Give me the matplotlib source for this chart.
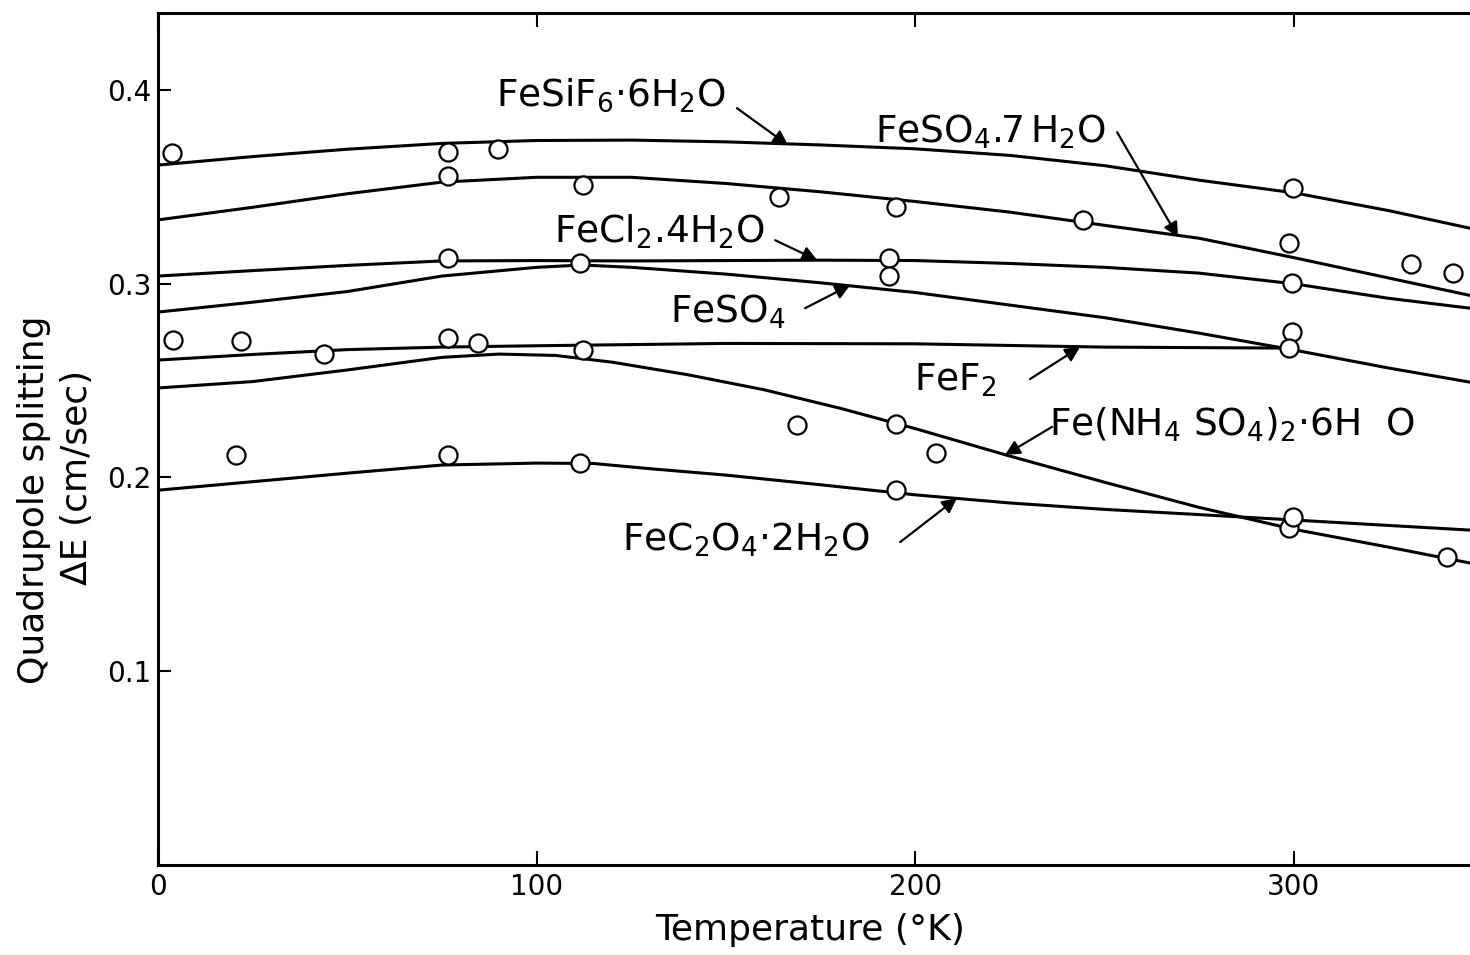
import matplotlib
matplotlib.use("Agg")
import matplotlib.pyplot as plt

# Smooth curves drawn through the data (temperature K, splitting cm/sec)
fesif6_T = [0, 25, 50, 75, 100, 125, 150, 175, 200, 225, 250, 275, 300, 325, 346.5]
fesif6_E = [0.3613, 0.3657, 0.3695, 0.3725, 0.3740, 0.3742, 0.3733, 0.3717, 0.3697,
            0.3663, 0.3610, 0.3535, 0.3470, 0.3378, 0.3287]

feso4_7_T = [0, 25, 50, 75, 100, 125, 150, 175, 200, 225, 250, 275, 300, 325, 346.5]
feso4_7_E = [0.333, 0.3395, 0.3465, 0.3525, 0.3550, 0.3550, 0.3518, 0.3475, 0.3425,
             0.3370, 0.3302, 0.3235, 0.3135, 0.3030, 0.2940]

fecl2_T = [0, 25, 50, 75, 100, 125, 150, 175, 200, 225, 250, 275, 300, 325, 346.5]
fecl2_E = [0.304, 0.3068, 0.3095, 0.3118, 0.3120, 0.3118, 0.3120, 0.3122, 0.3120,
           0.3105, 0.3085, 0.3055, 0.3000, 0.2925, 0.2874]

feso4_T = [0, 25, 50, 75, 100, 112, 125, 150, 175, 200, 225, 250, 275, 300, 325, 346.5]
feso4_E = [0.2854, 0.2905, 0.2960, 0.3040, 0.3085, 0.3097, 0.3085, 0.3050, 0.3005,
           0.2955, 0.2890, 0.2825, 0.2745, 0.2658, 0.2565, 0.2492]

fef2_T = [0, 25, 50, 75, 100, 150, 200, 250, 297]
fef2_E = [0.2606, 0.2635, 0.2660, 0.2673, 0.2680, 0.2692, 0.2690, 0.2673, 0.2668]

nh4_T = [0, 25, 50, 75, 90, 105, 120, 140, 160, 180, 200, 225, 250, 275, 300, 325, 346.5]
nh4_E = [0.2462, 0.2495, 0.2555, 0.2620, 0.2637, 0.2630, 0.2595, 0.2530, 0.2453, 0.2358,
         0.2252, 0.2110, 0.1975, 0.1845, 0.1732, 0.1640, 0.1558]

fec2o4_T = [0, 25, 50, 75, 100, 115, 130, 150, 175, 200, 225, 250, 275, 300, 325, 346.5]
fec2o4_E = [0.1934, 0.1978, 0.2022, 0.2064, 0.2074, 0.2072, 0.2045, 0.2012, 0.1962,
            0.1910, 0.1868, 0.1835, 0.1808, 0.1780, 0.1752, 0.1728]

# Measured points (open circles)
pts_T = [3.7, 76.6, 89.8, 299.8,
         76.6, 112.3, 164.0, 194.9, 244.3, 298.7, 331.0, 342.0,
         76.6, 193.1, 299.5,
         111.5, 193.1, 299.5,
         4.0, 21.9, 43.8, 76.6, 84.5, 112.3, 298.7,
         168.8, 194.9, 205.5, 298.7, 340.5,
         20.6, 76.6, 111.5, 194.9, 299.8]
pts_E = [0.3676, 0.3680, 0.3695, 0.3493,
         0.3556, 0.3510, 0.3447, 0.3396, 0.3329, 0.3210, 0.3101, 0.3055,
         0.3133, 0.3133, 0.3003,
         0.3107, 0.3040, 0.2750,
         0.2709, 0.2704, 0.2637, 0.2720, 0.2694, 0.2658, 0.2668,
         0.2271, 0.2276, 0.2125, 0.1738, 0.1588,
         0.2115, 0.2115, 0.2074, 0.1935, 0.1795]

curves = [(fesif6_T, fesif6_E), (feso4_7_T, feso4_7_E), (fecl2_T, fecl2_E),
          (feso4_T, feso4_E), (fef2_T, fef2_E), (nh4_T, nh4_E), (fec2o4_T, fec2o4_E)]

fig = plt.figure(figsize=(14.7, 9.55), dpi=100)
ax = fig.add_axes([158 / 1470, 90.3 / 955, 1312 / 1470, 852 / 955])

for T, E in curves:
    ax.plot(T, E, color='black', lw=2.2, solid_joinstyle='round')

ax.plot(pts_T, pts_E, 'o', ms=13, mfc='white', mec='black', mew=1.6, zorder=5)

ax.set_xlim(0, 346.5)
ax.set_ylim(0, 0.44)

ax.set_xticks([0, 100, 200, 300])
ax.set_xticklabels(['0', '100', '200', '300'])
ax.set_yticks([0.1, 0.2, 0.3, 0.4])
ax.set_yticklabels(['0.1', '0.2', '0.3', '0.4'])
ax.tick_params(axis='x', direction='in', length=10, width=1.5, top=True, labelsize=20, pad=6)
ax.tick_params(axis='y', direction='in', length=9, width=1.5, labelsize=20, pad=5)

for s in ['left', 'bottom', 'top']:
    ax.spines[s].set_linewidth(2.2)
ax.spines['right'].set_visible(False)

# Curve labels with arrows
labels = [
    ('FeSiF$_6$·6H$_2$O', (119.6, 0.3974), (152.9, 0.3907), (166.4, 0.3716)),
    ('FeSO$_4$.7$\\,$H$_2$O', (219.8, 0.3785), (253.3, 0.3783), (269.4, 0.3241)),
    ('FeCl$_2$.4H$_2$O', (132.3, 0.3266), (163.0, 0.3225), (174.1, 0.3122)),
    ('FeSO$_4$', (150.6, 0.2854), (170.9, 0.2874), (182.8, 0.2993)),
    ('FeF$_2$', (210.5, 0.2503), (230.3, 0.2508), (243.5, 0.2673)),
    ('Fe(NH$_4$ SO$_4$)$_2$·6H  O', (283.7, 0.2271), (236.1, 0.2261), (223.7, 0.2116)),
    ('FeC$_2$O$_4$·2H$_2$O', (155.3, 0.1676), (196.0, 0.1666), (211.0, 0.1893)),
]
for txt, pos, tail, tip in labels:
    ax.text(pos[0], pos[1], txt, fontsize=27, ha='center', va='center')
    ax.annotate('', xy=tip, xytext=tail,
                arrowprops=dict(arrowstyle='-|>', color='black', lw=1.6,
                                mutation_scale=22, shrinkA=0, shrinkB=0))

fig.text(810 / 1470, 1 - 930 / 955, 'Temperature (°K)', fontsize=26, ha='center', va='center')
fig.text(34 / 1470, 1 - 500 / 955, 'Quadrupole splitting', fontsize=26,
         rotation=90, ha='center', va='center')
fig.text(77 / 1470, 1 - 477 / 955, 'ΔE (cm/sec)', fontsize=26,
         rotation=90, ha='center', va='center')

fig.savefig('out.png', dpi=100)
